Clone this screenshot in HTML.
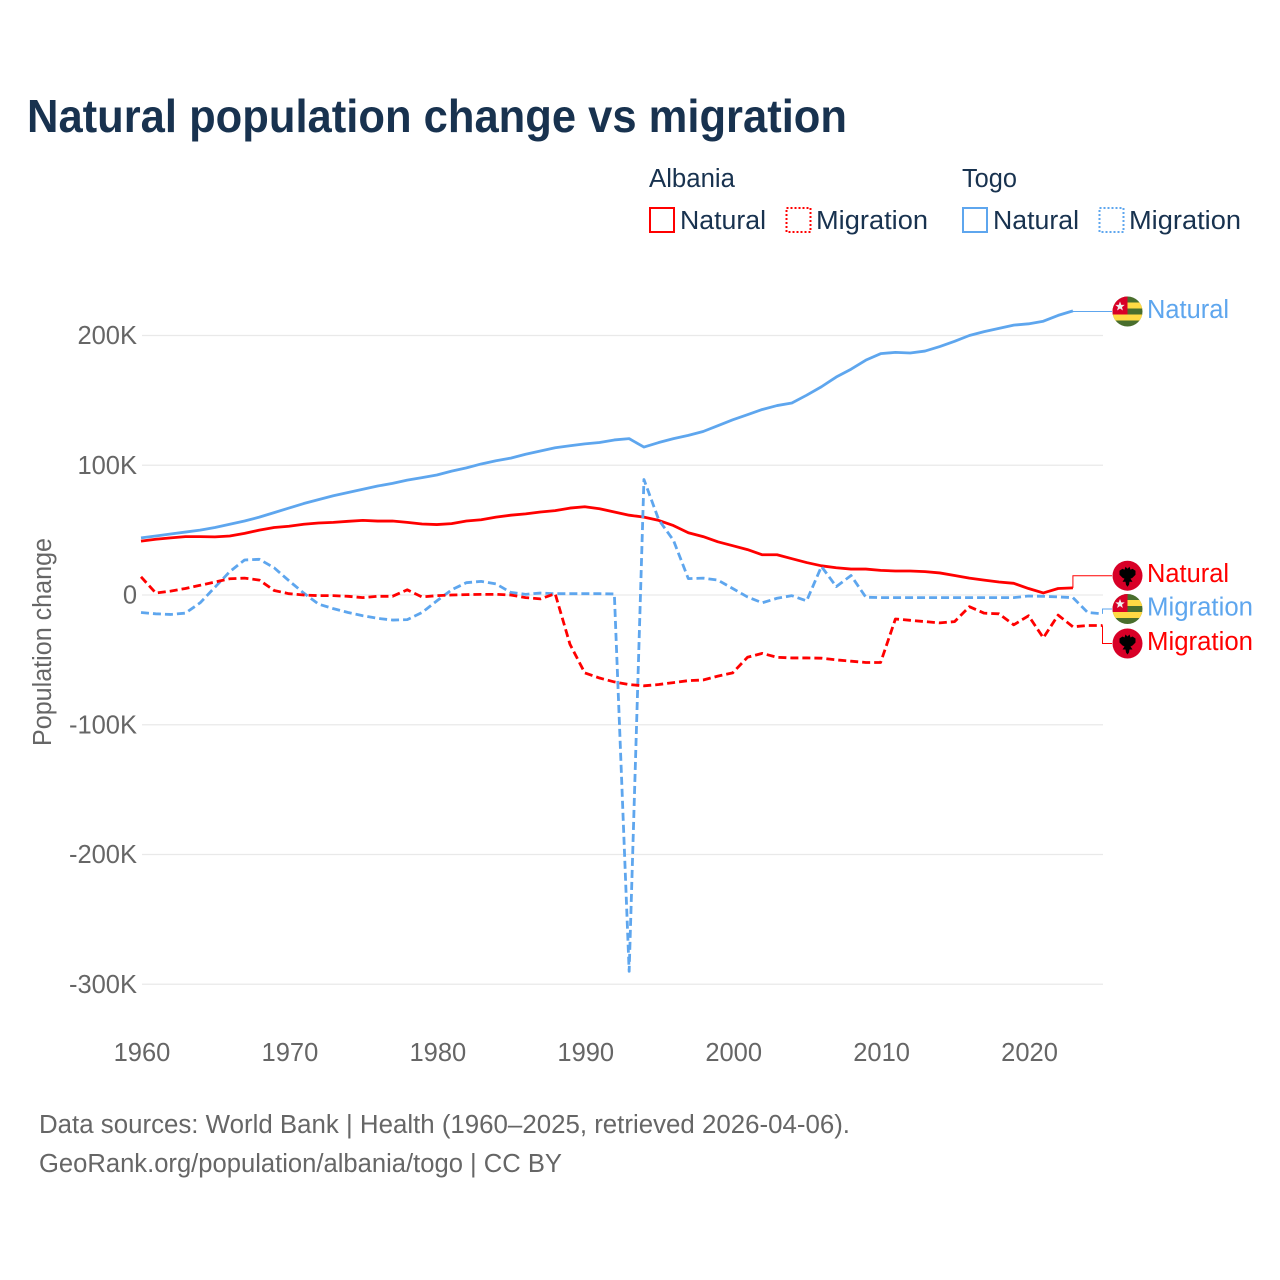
<!DOCTYPE html>
<html lang="en">
<head>
<meta charset="utf-8">
<title>Natural population change vs migration</title>
<style>
  html, body { margin: 0; padding: 0; background: #fff; }
  svg { display: block; font-family: "Liberation Sans", sans-serif; }
</style>
</head>
<body>
<svg id="chart" xmlns="http://www.w3.org/2000/svg" width="1280" height="1280" viewBox="0 0 1280 1280">
  <defs>
    <clipPath id="flag-clip"><circle cx="0" cy="0" r="15"/></clipPath>
    <g id="flag-togo">
      <g clip-path="url(#flag-clip)">
        <rect x="-15" y="-15" width="30" height="30" fill="#496e2d"/>
        <rect x="-15" y="-9" width="30" height="6" fill="#ffda44"/>
        <rect x="-15" y="3" width="30" height="6" fill="#ffda44"/>
        <rect x="-15" y="-15" width="15" height="18" fill="#d80027"/>
        <polygon points="-7.5,-10 -6.2,-6.6 -2.8,-6.6 -5.5,-4.4 -4.6,-1 -7.5,-3 -10.4,-1 -9.5,-4.4 -12.2,-6.6 -8.8,-6.6" fill="#f0f0f0"/>
      </g>
    </g>
    <g id="flag-albania">
      <circle cx="0" cy="0" r="15" fill="#d80027"/>
      <polygon points="-8,-5 -5,-7 -3,-6 -2,-9 0,-7 2,-9 3,-6 5,-7 8,-5 8,-1 5,2 3,3 5,6 2,6 1.5,9 0,11 -1.5,9 -2,6 -5,6 -3,3 -5,2 -8,-1" fill="#000"/>
    </g>
  </defs>

  <rect x="0" y="0" width="1280" height="1280" fill="#ffffff"/>

  <text x="27" y="132" font-size="46" font-weight="700" fill="#18324f" textLength="820" lengthAdjust="spacingAndGlyphs">Natural population change vs migration</text>

  <g font-size="25.5" fill="#18324f">
    <text x="649" y="187" textLength="86" lengthAdjust="spacingAndGlyphs">Albania</text>
    <text x="962" y="187" textLength="55" lengthAdjust="spacingAndGlyphs">Togo</text>

    <rect x="650" y="208" width="24" height="24" fill="none" stroke="#ff0000" stroke-width="2"/>
    <text x="680" y="229" textLength="86" lengthAdjust="spacingAndGlyphs">Natural</text>
    <rect x="786.5" y="208" width="24" height="24" fill="none" stroke="#ff0000" stroke-width="2" stroke-dasharray="2 2"/>
    <text x="816" y="229" textLength="112" lengthAdjust="spacingAndGlyphs">Migration</text>

    <rect x="963" y="208" width="24" height="24" fill="none" stroke="#5ea6ee" stroke-width="2"/>
    <text x="993" y="229" textLength="86" lengthAdjust="spacingAndGlyphs">Natural</text>
    <rect x="1099.5" y="208" width="24" height="24" fill="none" stroke="#5ea6ee" stroke-width="2" stroke-dasharray="2 2"/>
    <text x="1129" y="229" textLength="112" lengthAdjust="spacingAndGlyphs">Migration</text>
  </g>

  <g id="grid"></g>
  <g id="y-ticks"></g>
  <g id="x-ticks"></g>

  <text transform="translate(51,642) rotate(-90)" text-anchor="middle" font-size="25.5" fill="#666666" textLength="208" lengthAdjust="spacingAndGlyphs">Population change</text>

  <g id="leaders"></g>
  <g id="series"></g>
  <g id="end-labels"></g>

  <g font-size="25.5" fill="#666666">
    <text x="39" y="1133" textLength="811" lengthAdjust="spacingAndGlyphs">Data sources: World Bank | Health (1960–2025, retrieved 2026-04-06).</text>
    <text x="39" y="1172" textLength="523" lengthAdjust="spacingAndGlyphs">GeoRank.org/population/albania/togo | CC BY</text>
  </g>
</svg>

<script>
const startYear = 1960;
const xTickYears = [1960, 1970, 1980, 1990, 2000, 2010, 2020];
const yTickValues = [200, 100, 0, -100, -200, -300];
const yTickLabels = ["200K", "100K", "0", "-100K", "-200K", "-300K"];

const togoNatural = [44, 45.5, 47, 48.5, 50, 52, 54.5, 57, 60, 63.5, 67, 70.5, 73.5, 76.5, 79, 81.5, 84, 86, 88.5, 90.5, 92.5, 95.5, 98, 101, 103.5, 105.5, 108.5, 111, 113.5, 115, 116.5, 117.5, 119.5, 120.5, 114, 117.5, 120.5, 123, 126, 130.5, 135, 139, 143, 146, 148, 154, 160.5, 168, 174, 181, 186, 187, 186.5, 188, 191.5, 195.5, 200, 203, 205.5, 208, 209, 211, 215.5, 219];
const albaniaNatural = [41.5, 43, 44, 45, 45, 44.8, 45.5, 47.5, 50, 52, 53, 54.5, 55.5, 56, 56.8, 57.5, 57, 57, 56, 54.7, 54.3, 55, 57, 58, 60, 61.5, 62.5, 64, 65, 67, 68, 66.5, 64, 61.5, 60, 57.5, 53.5, 48, 45, 41, 38, 35, 31, 31, 28, 25, 22.5, 21, 20, 20, 19, 18.5, 18.5, 18, 17, 15, 13, 11.5, 10, 9, 5, 1.6, 5, 5.5];
const togoMigration = [-13.5, -14.5, -15, -14, -6, 6, 18, 27, 27.5, 21, 11, 1.5, -7, -10.5, -13.5, -16, -18, -19.3, -19, -13.5, -4.5, 4, 9.5, 10.5, 8.5, 2, 0.5, 1.5, 1, 1, 1, 1, 0.8, -290, 89, 58, 42, 12.6, 13, 11.5, 5, -1.5, -6, -2.5, -0.5, -4.5, 22, 6.5, 15, -1.7, -2, -2, -2, -2, -2, -2, -2, -2, -2, -2, -0.8, -1, -1.5, -2, -13.5, -14.5];
const albaniaMigration = [14, 1.5, 3, 5, 7.5, 10, 12.5, 13, 11.5, 3.5, 1, 0, -0.5, -0.5, -1, -2, -1, -1, 4, -1.5, -0.5, 0, 0.3, 0.5, 0.5, 0, -2, -3, 1, -38, -60, -64, -67, -69, -70, -69, -67.5, -66, -65.5, -62.5, -60, -48, -45, -48, -48.5, -48.5, -48.7, -50, -51, -52, -52, -18.5, -19.5, -20.5, -21.5, -20.5, -9, -14, -14.5, -23, -16, -33, -15.5, -24.5, -23.5, -23.5];

const seriesList = [
  { name: "togo-natural", values: togoNatural, color: "#5ea6ee", dashed: false, flag: "togo", label: "Natural", labelY: 311.5, labelWidth: 82 },
  { name: "albania-natural", values: albaniaNatural, color: "#ff0000", dashed: false, flag: "albania", label: "Natural", labelY: 575.7, labelWidth: 82 },
  { name: "togo-migration", values: togoMigration, color: "#5ea6ee", dashed: true, flag: "togo", label: "Migration", labelY: 609, labelWidth: 106 },
  { name: "albania-migration", values: albaniaMigration, color: "#ff0000", dashed: true, flag: "albania", label: "Migration", labelY: 643.5, labelWidth: 106 }
];

const NS = "http://www.w3.org/2000/svg";
const xScale = (year) => 141 + (year - 1960) * (1102.5 - 141) / 65;
const yScale = (k) => 595 - k * 1.2975;
const make = (tag, parent) => {
  const el = document.createElementNS(NS, tag);
  parent.appendChild(el);
  return el;
};

const grid = document.getElementById("grid");
const yTicks = document.getElementById("y-ticks");
yTickValues.forEach((v, i) => {
  const line = make("line", grid);
  
  
  line.setAttribute("x1", 142);
  line.setAttribute("x2", 1103);
  line.setAttribute("y1", yScale(v));
  line.setAttribute("y2", yScale(v));
  line.setAttribute("stroke", "#e9e9e9");
  line.setAttribute("stroke-width", "1.2");

  const t = make("text", yTicks);
  
  
  t.setAttribute("x", 137);
  t.setAttribute("y", yScale(v) + 8.5);
  t.setAttribute("text-anchor", "end");
  t.setAttribute("font-size", "25.5");
  t.setAttribute("fill", "#666666");
  t.textContent = yTickLabels[i];
});

const xTicks = document.getElementById("x-ticks");
xTickYears.forEach((year) => {
  const t = make("text", xTicks);
  
  
  t.setAttribute("x", xScale(year) + 1);
  t.setAttribute("y", 1061);
  t.setAttribute("text-anchor", "middle");
  t.setAttribute("font-size", "25.5");
  t.setAttribute("fill", "#666666");
  t.textContent = String(year);
});

const seriesGroup = document.getElementById("series");
const leaders = document.getElementById("leaders");
const endLabels = document.getElementById("end-labels");
seriesList.forEach((s) => {
  const pts = s.values.map((v, i) => [xScale(startYear + i), yScale(v)]);

  const path = make("path", seriesGroup);
  
  
  path.setAttribute("d", "M" + pts.map((p) => p[0].toFixed(2) + "," + p[1].toFixed(2)).join("L"));
  path.setAttribute("fill", "none");
  path.setAttribute("stroke", s.color);
  path.setAttribute("stroke-width", "2.8");
  path.setAttribute("stroke-linejoin", "round");
  if (s.dashed) path.setAttribute("stroke-dasharray", "8 4");

  const last = pts[pts.length - 1];
  const leader = make("path", leaders);
  
  
  leader.setAttribute("d", "M" + last[0] + "," + last[1] + "V" + s.labelY + "H1112");
  leader.setAttribute("fill", "none");
  leader.setAttribute("stroke", s.color);
  leader.setAttribute("stroke-width", "1");

  const flag = make("use", endLabels);
  
  
  flag.setAttribute("href", "#flag-" + s.flag);
  flag.setAttribute("x", 1127.5);
  flag.setAttribute("y", s.labelY);

  const label = make("text", endLabels);
  
  
  label.setAttribute("x", 1147);
  label.setAttribute("y", s.labelY + 6.5);
  label.setAttribute("font-size", "25.5");
  label.setAttribute("fill", s.color);
  label.setAttribute("textLength", s.labelWidth);
  label.setAttribute("lengthAdjust", "spacingAndGlyphs");
  label.textContent = s.label;
});
</script>
</body>
</html>
